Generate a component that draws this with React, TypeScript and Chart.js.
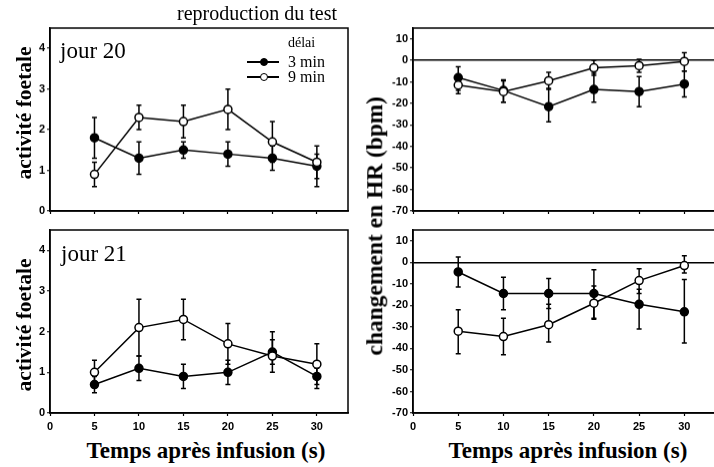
import React, { useEffect, useRef } from "react";
import { Chart, registerables } from "chart.js";

Chart.register(...registerables);

// ---------- data ----------
const timePoints = [5, 10, 15, 20, 25, 30];
const xTickValues = [0, 5, 10, 15, 20, 25, 30];
const activityTicks = [0, 1, 2, 3, 4];
const hrTicks = [10, 0, -10, -20, -30, -40, -50, -60, -70];

// jour 20 – activité foetale
const j20Min3 = [1.8, 1.3, 1.5, 1.4, 1.3, 1.1];
const j20Min3Hi = [2.3, 1.7, 1.7, 1.7, 1.6, 1.4];
const j20Min3Lo = [1.3, 0.9, 1.3, 1.1, 1.0, 0.8];
const j20Min9 = [0.9, 2.3, 2.2, 2.5, 1.7, 1.2];
const j20Min9Hi = [1.2, 2.6, 2.6, 3.0, 2.2, 1.6];
const j20Min9Lo = [0.6, 2.0, 1.8, 2.0, 1.2, 0.6];

// jour 21 – activité foetale
const j21Min3 = [0.7, 1.1, 0.9, 1.0, 1.5, 0.9];
const j21Min3Hi = [0.9, 1.4, 1.2, 1.3, 1.8, 1.1];
const j21Min3Lo = [0.5, 0.8, 0.6, 0.7, 1.2, 0.6];
const j21Min9 = [1.0, 2.1, 2.3, 1.7, 1.4, 1.2];
const j21Min9Hi = [1.3, 2.8, 2.8, 2.2, 2.0, 1.7];
const j21Min9Lo = [0.7, 1.4, 1.8, 1.2, 1.0, 0.7];

// jour 20 – changement en HR
const hr20Min3 = [-8, -14, -21.5, -13.5, -14.5, -11];
const hr20Min3Hi = [-3, -9, -13, -6, -7.5, -5];
const hr20Min3Lo = [-14, -19.5, -28.5, -19.5, -21.5, -17];
const hr20Min9 = [-11.5, -14.5, -9.5, -3.5, -2.5, -0.5];
const hr20Min9Hi = [-8, -9.5, -5.5, 0, 0.5, 3.5];
const hr20Min9Lo = [-15.5, -19.5, -13.5, -7, -5.5, -5];

// jour 21 – changement en HR
const hr21Min3 = [-4.5, -14.5, -14.5, -14.5, -19.5, -23];
const hr21Min3Hi = [2.5, -7, -7.5, -3.5, -12.5, -8];
const hr21Min3Lo = [-11.5, -22, -21.5, -26, -31, -37.5];
const hr21Min9 = [-32, -34.5, -29, -19, -8.5, -1.5];
const hr21Min9Hi = [-22, -26, -19.5, -11, -3, 3];
const hr21Min9Lo = [-42.5, -43, -37, -26.5, -14.5, -5];

const legendTitle = "délai";
const seriesNames = ["3 min", "9 min"];

// ---------- helpers ----------
type Area = { l: number; t: number; r: number; b: number };

type PanelProps = {
  area: Area;
  yMin: number;
  yMax: number;
  yTicks: number[];
  showXLabels: boolean;
  zeroLine: boolean;
  s3: number[];
  s3Lo: number[];
  s3Hi: number[];
  s9: number[];
  s9Lo: number[];
  s9Hi: number[];
};

const errorBarPlugin = {
  id: "errorBars",
  beforeDatasetsDraw(chart: any) {
    const ctx = chart.ctx;
    const xs = chart.scales.x;
    const ys = chart.scales.y;
    ctx.save();
    ctx.strokeStyle = "#000";
    ctx.lineWidth = 1.5;
    chart.data.datasets.forEach((ds: any) => {
      const lo: number[] = ds.errLo;
      const hi: number[] = ds.errHi;
      ds.data.forEach((p: any, i: number) => {
        const x = xs.getPixelForValue(p.x);
        const yl = ys.getPixelForValue(lo[i]);
        const yh = ys.getPixelForValue(hi[i]);
        ctx.beginPath();
        ctx.moveTo(x, yl);
        ctx.lineTo(x, yh);
        ctx.moveTo(x - 2.5, yl);
        ctx.lineTo(x + 2.5, yl);
        ctx.moveTo(x - 2.5, yh);
        ctx.lineTo(x + 2.5, yh);
        ctx.stroke();
      });
    });
    ctx.restore();
  },
};

const framePlugin = {
  id: "frame",
  afterDraw(chart: any) {
    const { left, top, right, bottom } = chart.chartArea;
    const ctx = chart.ctx;
    ctx.save();
    ctx.strokeStyle = "#000";
    ctx.lineWidth = 1.5;
    ctx.strokeRect(left, top, right - left, bottom - top);
    ctx.restore();
  },
};

const YW = 40;
const PAD_T = 10;
const PAD_R = 6;

function Panel(p: PanelProps) {
  const canvasRef = useRef<HTMLCanvasElement>(null);
  const wrapRef = useRef<HTMLDivElement>(null);
  const XH = p.showXLabels ? 24 : 8;
  const w0 = YW + (p.area.r - p.area.l) + PAD_R;
  const h0 = PAD_T + (p.area.b - p.area.t) + XH;

  useEffect(() => {
    const canvas = canvasRef.current!;
    const tickFont = { family: "'Liberation Sans', Arial, sans-serif", size: 11, weight: "bold" as const };
    const mk = (vals: number[]) => vals.map((v, i) => ({ x: timePoints[i], y: v }));
    const chart = new Chart(canvas, {
      type: "line",
      data: {
        datasets: [
          {
            label: seriesNames[0],
            data: mk(p.s3),
            errLo: p.s3Lo,
            errHi: p.s3Hi,
            borderColor: "#000",
            borderWidth: 1.5,
            backgroundColor: "#000",
            pointBackgroundColor: "#000",
            pointBorderColor: "#000",
            pointBorderWidth: 1.5,
            pointRadius: 4,
            tension: 0,
            order: 1,
          } as any,
          {
            label: seriesNames[1],
            data: mk(p.s9),
            errLo: p.s9Lo,
            errHi: p.s9Hi,
            borderColor: "#000",
            borderWidth: 1.5,
            backgroundColor: "#fff",
            pointBackgroundColor: "#fff",
            pointBorderColor: "#000",
            pointBorderWidth: 1.5,
            pointRadius: 4,
            tension: 0,
            order: 0,
          } as any,
        ],
      },
      options: {
        responsive: false,
        maintainAspectRatio: false,
        animation: false,
        events: [],
        layout: { padding: { top: PAD_T, right: PAD_R, left: 0, bottom: 0 } },
        plugins: { legend: { display: false }, tooltip: { enabled: false }, title: { display: false } },
        scales: {
          x: {
            type: "linear",
            min: 0,
            max: 33.5,
            afterFit: (s: any) => {
              s.height = XH;
            },
            afterBuildTicks: (s: any) => {
              s.ticks = xTickValues.map((v) => ({ value: v }));
            },
            ticks: {
              display: p.showXLabels,
              color: "#000",
              font: tickFont,
              padding: 4,
              maxRotation: 0,
              autoSkip: false,
              includeBounds: false,
            },
            grid: { drawOnChartArea: false, drawTicks: true, tickLength: 3, tickColor: "#000", tickWidth: 1.2 },
            border: { display: true, color: "#000", width: 1.5 },
          },
          y: {
            type: "linear",
            min: p.yMin,
            max: p.yMax,
            afterFit: (s: any) => {
              s.width = YW;
            },
            afterBuildTicks: (s: any) => {
              s.ticks = p.yTicks.map((v) => ({ value: v }));
            },
            ticks: {
              color: "#000",
              font: tickFont,
              padding: 2,
              autoSkip: false,
              includeBounds: false,
            },
            grid: {
              drawOnChartArea: true,
              drawTicks: true,
              tickLength: 3,
              tickColor: "#000",
              tickWidth: 1.2,
              lineWidth: 1.5,
              color: (ctx: any) =>
                p.zeroLine && ctx.tick && ctx.tick.value === 0 ? "#000" : "rgba(0,0,0,0)",
            },
            border: { display: true, color: "#000", width: 1.5 },
          },
        },
      } as any,
      plugins: [errorBarPlugin, framePlugin],
    });

    // align the chart area with the target panel rectangle
    let ca = chart.chartArea;
    const dw = p.area.r - p.area.l - (ca.right - ca.left);
    const dh = p.area.b - p.area.t - (ca.bottom - ca.top);
    if (Math.abs(dw) > 0.5 || Math.abs(dh) > 0.5) {
      chart.resize(w0 + dw, h0 + dh);
      ca = chart.chartArea;
    }
    if (wrapRef.current) {
      wrapRef.current.style.left = `${p.area.l - ca.left}px`;
      wrapRef.current.style.top = `${p.area.t - ca.top}px`;
    }
    return () => chart.destroy();
  }, []);

  return (
    <div ref={wrapRef} style={{ position: "absolute", left: p.area.l - YW, top: p.area.t - PAD_T }}>
      <canvas ref={canvasRef} width={w0} height={h0} style={{ display: "block" }} />
    </div>
  );
}

const serif = "'Liberation Serif', 'Times New Roman', serif";

function Txt(props: {
  x: number;
  y: number;
  size: number;
  bold?: boolean;
  rotate?: boolean;
  align?: "center" | "left";
  children: React.ReactNode;
}) {
  const { x, y, size, bold, rotate, align = "center" } = props;
  const tr =
    align === "center"
      ? `translate(-50%, -50%)${rotate ? " rotate(-90deg)" : ""}`
      : "translate(0, -50%)";
  return (
    <div
      style={{
        position: "absolute",
        left: x,
        top: y,
        transform: tr,
        fontFamily: serif,
        fontSize: size,
        fontWeight: bold ? "bold" : "normal",
        whiteSpace: "nowrap",
        lineHeight: 1,
        color: "#000",
      }}
    >
      {props.children}
    </div>
  );
}

function LegendSym(props: { x: number; y: number; filled: boolean }) {
  const { x, y, filled } = props;
  return (
    <>
      <div style={{ position: "absolute", left: x - 17, top: y - 0.75, width: 32, height: 1.5, background: "#000" }} />
      <div
        style={{
          position: "absolute",
          left: x - 4,
          top: y - 4,
          width: 8,
          height: 8,
          boxSizing: "border-box",
          borderRadius: "50%",
          border: "1.5px solid #000",
          background: filled ? "#000" : "#fff",
        }}
      />
    </>
  );
}

export default function App() {
  return (
    <div
      style={{
        position: "absolute",
        left: 0,
        top: 0,
        width: 714,
        height: 467,
        overflow: "hidden",
        background: "#fff",
      }}
    >
      <Panel
        area={{ l: 50, t: 28, r: 348, b: 210 }}
        yMin={0}
        yMax={4.5}
        yTicks={activityTicks}
        showXLabels={false}
        zeroLine={false}
        s3={j20Min3}
        s3Lo={j20Min3Lo}
        s3Hi={j20Min3Hi}
        s9={j20Min9}
        s9Lo={j20Min9Lo}
        s9Hi={j20Min9Hi}
      />
      <Panel
        area={{ l: 50, t: 230, r: 348, b: 413 }}
        yMin={0}
        yMax={4.5}
        yTicks={activityTicks}
        showXLabels={true}
        zeroLine={false}
        s3={j21Min3}
        s3Lo={j21Min3Lo}
        s3Hi={j21Min3Hi}
        s9={j21Min9}
        s9Lo={j21Min9Lo}
        s9Hi={j21Min9Hi}
      />
      <Panel
        area={{ l: 413, t: 28, r: 716, b: 210 }}
        yMin={-70}
        yMax={15}
        yTicks={hrTicks}
        showXLabels={false}
        zeroLine={true}
        s3={hr20Min3}
        s3Lo={hr20Min3Lo}
        s3Hi={hr20Min3Hi}
        s9={hr20Min9}
        s9Lo={hr20Min9Lo}
        s9Hi={hr20Min9Hi}
      />
      <Panel
        area={{ l: 413, t: 230, r: 716, b: 413 }}
        yMin={-70}
        yMax={15}
        yTicks={hrTicks}
        showXLabels={true}
        zeroLine={true}
        s3={hr21Min3}
        s3Lo={hr21Min3Lo}
        s3Hi={hr21Min3Hi}
        s9={hr21Min9}
        s9Lo={hr21Min9Lo}
        s9Hi={hr21Min9Hi}
      />

      <Txt x={257} y={13} size={20}>reproduction du test</Txt>
      <Txt x={60} y={50} size={23} align="left">jour 20</Txt>
      <Txt x={61} y={253} size={23} align="left">jour 21</Txt>

      <Txt x={288} y={43} size={14} align="left">{legendTitle}</Txt>
      <LegendSym x={264} y={62} filled={true} />
      <Txt x={288} y={62} size={16} align="left">{seriesNames[0]}</Txt>
      <LegendSym x={264} y={77} filled={false} />
      <Txt x={288} y={77} size={16} align="left">{seriesNames[1]}</Txt>

      <Txt x={25} y={113} size={21.5} bold rotate>activité foetale</Txt>
      <Txt x={25} y={325} size={21.5} bold rotate>activité foetale</Txt>
      <Txt x={375} y={226} size={23.5} bold rotate>changement en HR (bpm)</Txt>

      <Txt x={206} y={450} size={23} bold>Temps après infusion (s)</Txt>
      <Txt x={568} y={450} size={23} bold>Temps après infusion (s)</Txt>
    </div>
  );
}
